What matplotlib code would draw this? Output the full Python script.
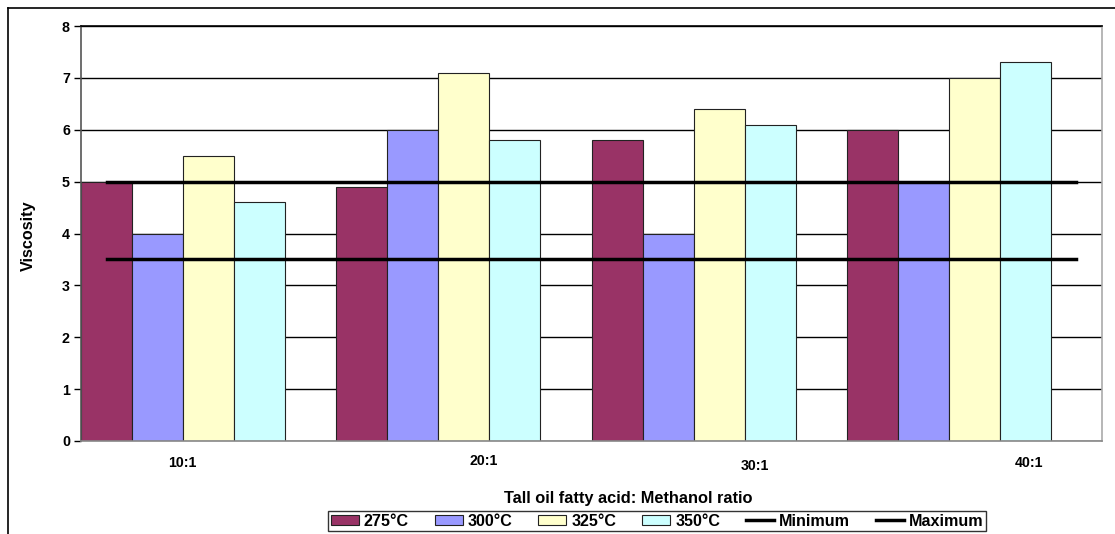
import matplotlib
matplotlib.use("Agg")
import matplotlib.pyplot as plt
from matplotlib.lines import Line2D
from matplotlib.patches import Patch
import numpy as np

plt.rcParams['font.family'] = ['Liberation Sans', 'DejaVu Sans']
plt.rcParams['font.weight'] = 'bold'

ratios = ["10:1", "20:1", "30:1", "40:1"]
temps = ["275°C", "300°C", "325°C", "350°C"]
viscosity = {
    "275°C": [5.0, 4.9, 5.8, 6.0],
    "300°C": [4.0, 6.0, 4.0, 5.0],
    "325°C": [5.5, 7.1, 6.4, 7.0],
    "350°C": [4.6, 5.8, 6.1, 7.3],
}
colors = ["#993366", "#9999FF", "#FFFFCC", "#CCFFFF"]
minimum = 3.5
maximum = 5.0

W, H = 1115, 534
fig = plt.figure(figsize=(W / 100, H / 100), dpi=100)
ax = fig.add_axes([81 / W, 1 - 441 / H, (1102 - 81) / W, (441 - 26) / H])

# Outer chart border (top and left edges)
fig.add_artist(Line2D([8 / W, 1], [1 - 8 / H, 1 - 8 / H], color="black", lw=1.2,
                      transform=fig.transFigure))
fig.add_artist(Line2D([8 / W, 8 / W], [0, 1 - 8 / H], color="black", lw=1.2,
                      transform=fig.transFigure))

group = np.arange(len(ratios)) * 5
for j, t in enumerate(temps):
    ax.bar(group + j + 0.5, viscosity[t], width=1.0, color=colors[j],
           edgecolor="#222222", linewidth=0.8, zorder=2, label=t)

n = len(ratios) * 5
ax.plot([0.5, n - 0.5], [minimum, minimum], color="black", lw=2.5, zorder=3)
ax.plot([0.5, n - 0.5], [maximum, maximum], color="black", lw=2.5, zorder=3)

ax.set_xlim(0, n)
ax.set_ylim(0, 8)
ax.set_yticks(range(0, 9))
ax.tick_params(axis="y", length=5, width=1, labelsize=10.3, pad=3, direction="out")
for lab in ax.get_yticklabels():
    lab.set_fontweight("bold")
ax.set_xticks([])
ax.yaxis.grid(True, color="black", lw=1, zorder=0)
ax.set_axisbelow(True)

ax.spines["left"].set_color("#555555")
ax.spines["bottom"].set_color("#888888")
ax.spines["right"].set_color("#aaaaaa")
ax.spines["top"].set_color("black")
for s in ax.spines.values():
    s.set_linewidth(1.2)

# Category labels below the axis
label_x = [182, 484, 755, 1029]
label_y = [463, 461, 466, 463]
for name, lx, ly in zip(ratios, label_x, label_y):
    fig.text(lx / W, 1 - ly / H, name, ha="center", va="center",
             fontsize=10.2, fontweight="bold")

fig.text(628 / W, 1 - 498 / H, "Tall oil fatty acid: Methanol ratio",
         ha="center", va="center", fontsize=11.8, fontweight="bold")
fig.text(28 / W, 1 - 236 / H, "Viscosity", ha="center", va="center",
         rotation=90, fontsize=11.6, fontweight="bold")

handles = [Patch(facecolor=c, edgecolor="#222222", linewidth=0.8) for c in colors]
handles += [Line2D([], [], color="black", lw=2.5), Line2D([], [], color="black", lw=2.5)]
labels = temps + ["Minimum", "Maximum"]
leg = fig.legend(handles, labels, loc="center", bbox_to_anchor=(657 / W, 1 - 521 / H),
                 ncol=6, frameon=True, fancybox=False, fontsize=11.6,
                 handlelength=1.75, handleheight=0.62, handletextpad=0.3,
                 columnspacing=1.6, borderpad=0.15, borderaxespad=0)
leg.get_frame().set_edgecolor("black")
leg.get_frame().set_linewidth(1)
for txt in leg.get_texts():
    txt.set_fontweight("bold")

fig.savefig("out.png", dpi=100)
